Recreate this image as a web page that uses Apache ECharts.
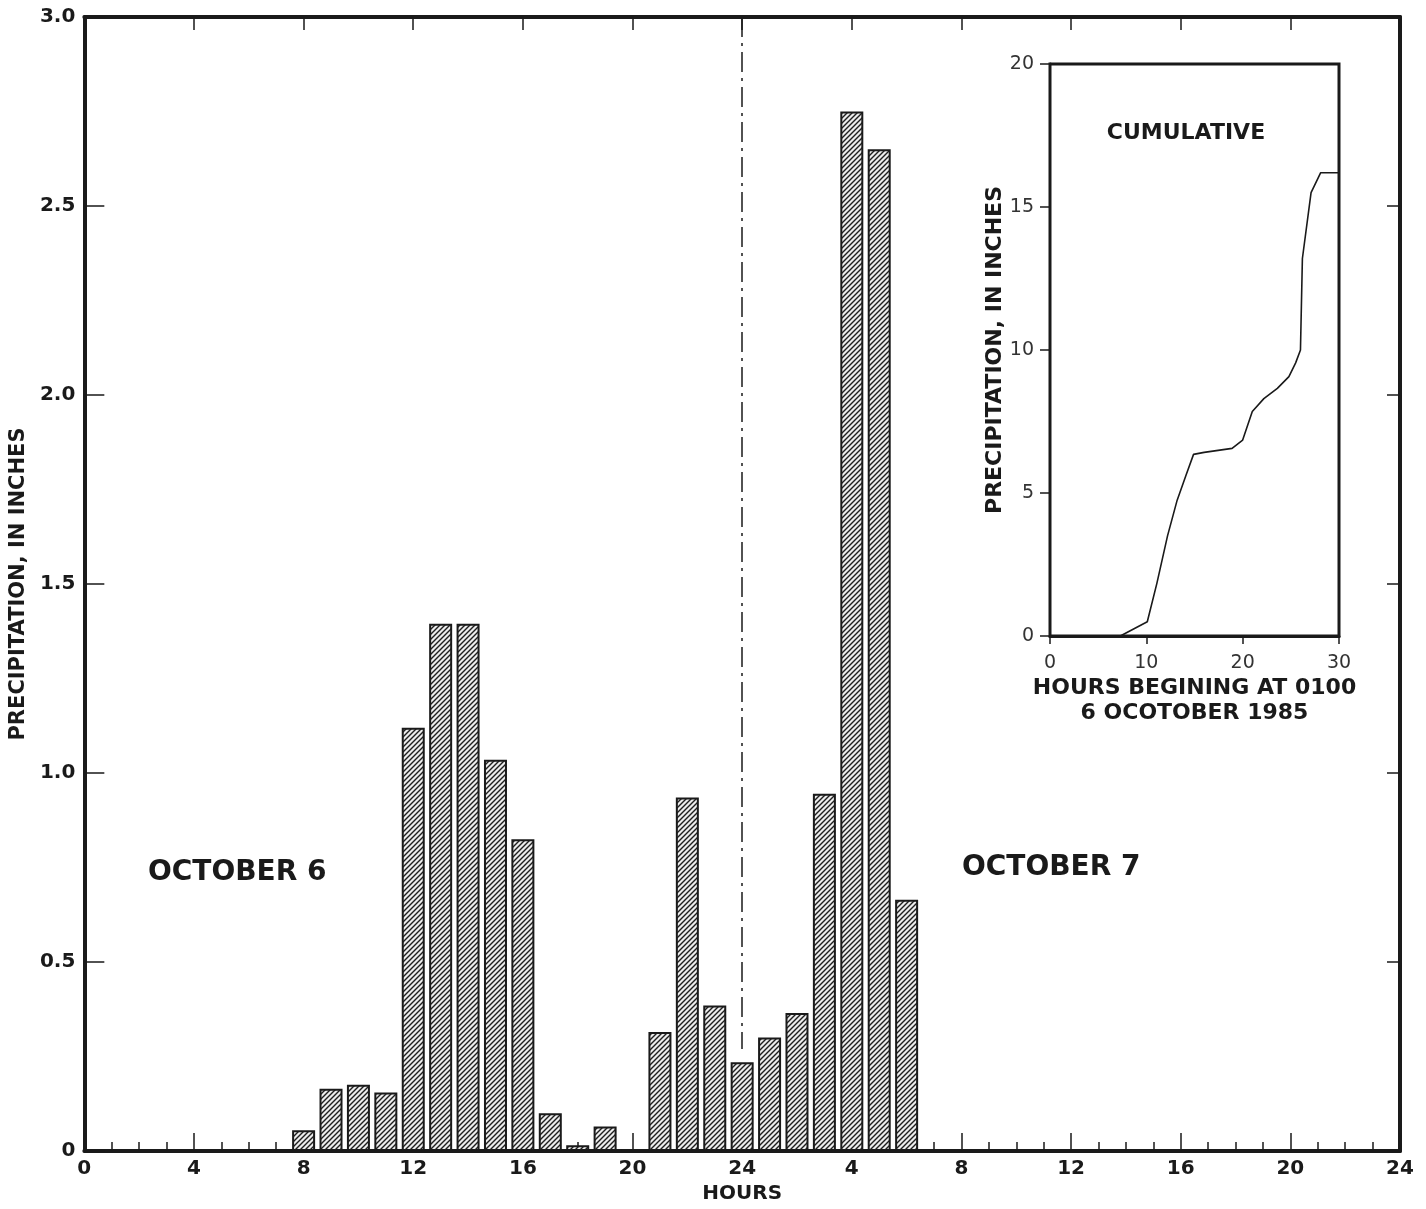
<!DOCTYPE html>
<html>
<head>
<meta charset="utf-8">
<title>Hourly precipitation, October 6-7</title>
<script src="https://cdn.jsdelivr.net/npm/echarts@6/dist/echarts.min.js"></script>
<style>
	html, body { margin: 0; padding: 0; background: #fff; }
	#main { width: 1426px; height: 1209px; }
</style>
</head>
<body>
<div id="main"></div>
<script>
//hourly bars: hour counted from 0000 Oct 6 (24 = midnight)
var barHours = [8, 9, 10, 11, 12, 13, 14, 15, 16, 17, 18, 19, 20, 21, 22, 23, 24, 25, 26, 27, 28, 29, 30];
var barValues = [0.055, 0.165, 0.175, 0.155, 1.12, 1.395, 1.395, 1.035, 0.825, 0.1, 0.015, 0.065, 0.005,
	0.315, 0.935, 0.385, 0.235, 0.3, 0.365, 0.945, 2.75, 2.65, 0.665];

//cumulative curve of the inset
var cumHours = [0, 7.3, 10.1, 11.1, 12.2, 13.2, 14.1, 14.9, 16, 18.9, 20, 21, 22.2, 23.6, 24.8, 25.5, 26, 26.2, 27.1, 28.1, 30];
var cumValues = [0, 0, 0.5, 1.85, 3.5, 4.75, 5.6, 6.35, 6.42, 6.56, 6.85, 7.85, 8.3, 8.66, 9.07, 9.55, 10, 13.2, 15.5, 16.2, 16.2];

//tick labels
var mainYLabels = ['0', '0.5', '1.0', '1.5', '2.0', '2.5', '3.0'];

var boldFont = 'DejaVu Sans';
var ink = '#1a1a1a';

//hatch pattern for the bars
var makeHatch = function() {
	var s = 5;
	var c = document.createElement('canvas');
	c.width = s;
	c.height = s;
	var ctx = c.getContext('2d');
	ctx.fillStyle = '#ececec';
	ctx.fillRect(0, 0, s, s);
	ctx.strokeStyle = '#1e1e1e';
	ctx.lineWidth = 1.4;
	ctx.beginPath();
	ctx.moveTo(0, s);
	ctx.lineTo(s, 0);
	ctx.moveTo(-1, 1);
	ctx.lineTo(1, -1);
	ctx.moveTo(s - 1, s + 1);
	ctx.lineTo(s + 1, s - 1);
	ctx.stroke();
	return c;
};

var pairs = function(xs, ys) {
	var out = [];
	for(var i = 0; i < xs.length; i++) {
		out.push([xs[i], ys[i]]);
	}
	return out;
};

var chart = echarts.init(document.getElementById('main'), null, { renderer: 'canvas' });

var option = {
	animation: false,
	backgroundColor: '#fff',
	grid: [{
		left: 83,
		top: 17,
		right: 26,
		bottom: 58,
		show: false
	}, {
		left: 1050,
		top: 64,
		width: 289,
		height: 572,
		show: true,
		backgroundColor: '#fff',
		borderColor: ink,
		borderWidth: 3,
		z: 5
	}],
	xAxis: [{
		//main bottom axis
		type: 'value',
		gridIndex: 0,
		position: 'bottom',
		min: 0,
		max: 48,
		interval: 4,
		axisLine: { show: true, onZero: false, lineStyle: { color: ink, width: 4 } },
		axisTick: { show: true, inside: true, length: 18, lineStyle: { color: ink, width: 1.5 } },
		minorTick: { show: true, splitNumber: 4, length: 9, lineStyle: { color: ink, width: 1.5 } },
		splitLine: { show: false },
		axisLabel: {
			color: ink,
			fontFamily: boldFont,
			fontWeight: 'bold',
			fontSize: 20,
			margin: 8,
			formatter: function(v) {
				return v > 24 ? String(v - 24) : String(v);
			}
		},
		name: 'HOURS',
		nameLocation: 'middle',
		nameGap: 33,
		nameTextStyle: { color: ink, fontFamily: boldFont, fontWeight: 'bold', fontSize: 20 }
	}, {
		//main top axis
		type: 'value',
		gridIndex: 0,
		position: 'top',
		min: 0,
		max: 48,
		interval: 4,
		axisLine: { show: true, onZero: false, lineStyle: { color: ink, width: 4 } },
		axisTick: { show: true, inside: true, length: 13, lineStyle: { color: ink, width: 1.5 } },
		splitLine: { show: false },
		axisLabel: { show: false }
	}, {
		//inset x axis
		type: 'value',
		gridIndex: 1,
		min: 0,
		max: 30,
		interval: 10,
		axisLine: { show: true, onZero: false, lineStyle: { color: ink, width: 3 } },
		axisTick: { show: true, inside: false, length: 8, lineStyle: { color: ink, width: 1.5 } },
		splitLine: { show: false },
		axisLabel: { color: '#333', fontFamily: 'DejaVu Sans', fontSize: 19, margin: 18 },
		name: 'HOURS BEGINING AT 0100\n6 OCOTOBER 1985',
		nameLocation: 'middle',
		nameGap: 40,
		nameTextStyle: { color: ink, fontFamily: boldFont, fontWeight: 'bold', fontSize: 22, lineHeight: 25, verticalAlign: 'top' }
	}],
	yAxis: [{
		//main left axis
		type: 'value',
		gridIndex: 0,
		position: 'left',
		min: 0,
		max: 3,
		interval: 0.5,
		axisLine: { show: true, onZero: false, lineStyle: { color: ink, width: 4 } },
		axisTick: { show: true, inside: true, length: 20, lineStyle: { color: ink, width: 1.5 } },
		splitLine: { show: false },
		axisLabel: {
			color: ink,
			fontFamily: boldFont,
			fontWeight: 'bold',
			fontSize: 20,
			margin: 9,
			formatter: function(v) {
				return mainYLabels[Math.round(v * 2)];
			}
		},
		name: 'PRECIPITATION, IN INCHES',
		nameLocation: 'middle',
		nameRotate: 90,
		nameGap: 52,
		nameTextStyle: { color: ink, fontFamily: boldFont, fontWeight: 'bold', fontSize: 21 }
	}, {
		//main right axis
		type: 'value',
		gridIndex: 0,
		position: 'right',
		min: 0,
		max: 3,
		interval: 0.5,
		axisLine: { show: true, onZero: false, lineStyle: { color: ink, width: 4 } },
		axisTick: { show: true, inside: true, length: 13, lineStyle: { color: ink, width: 1.5 } },
		splitLine: { show: false },
		axisLabel: { show: false }
	}, {
		//inset y axis
		type: 'value',
		gridIndex: 1,
		min: 0,
		max: 20,
		interval: 5,
		axisLine: { show: true, onZero: false, lineStyle: { color: ink, width: 3 } },
		axisTick: { show: true, inside: false, length: 10, lineStyle: { color: ink, width: 1.5 } },
		splitLine: { show: false },
		axisLabel: { color: '#333', fontFamily: 'DejaVu Sans', fontSize: 19, margin: 16 },
		name: 'PRECIPITATION, IN INCHES',
		nameLocation: 'middle',
		nameRotate: 90,
		nameGap: 42,
		nameTextStyle: { color: ink, fontFamily: boldFont, fontWeight: 'bold', fontSize: 22 }
	}],
	series: [{
		name: 'Hourly',
		type: 'bar',
		xAxisIndex: 0,
		yAxisIndex: 0,
		barWidth: 23,
		data: pairs(barHours, barValues),
		itemStyle: {
			color: { image: makeHatch(), repeat: 'repeat' },
			borderColor: ink,
			borderWidth: 2
		},
		markLine: {
			silent: true,
			symbol: ['none', 'none'],
			label: { show: false },
			lineStyle: { color: ink, width: 1.5, type: [20, 6, 3, 6] },
			data: [
				[{ coord: [24, 3] }, { coord: [24, 0.27] }]
			]
		}
	}, {
		name: 'Cumulative',
		type: 'line',
		xAxisIndex: 2,
		yAxisIndex: 2,
		showSymbol: false,
		symbol: 'none',
		z: 6,
		lineStyle: { color: ink, width: 1.6 },
		data: pairs(cumHours, cumValues)
	}],
	graphic: [{
		type: 'text',
		z: 10,
		style: { text: 'OCTOBER 6', x: 148, y: 873, font: 'bold 28px "DejaVu Sans"', fill: ink, verticalAlign: 'middle' }
	}, {
		type: 'text',
		z: 10,
		style: { text: 'OCTOBER 7', x: 962, y: 868, font: 'bold 28px "DejaVu Sans"', fill: ink, verticalAlign: 'middle' }
	}, {
		type: 'text',
		z: 10,
		style: { text: 'CUMULATIVE', x: 1186, y: 133, font: 'bold 22px "DejaVu Sans"', fill: ink, align: 'center', verticalAlign: 'middle' }
	}]
};

chart.setOption(option);
</script>
</body>
</html>
